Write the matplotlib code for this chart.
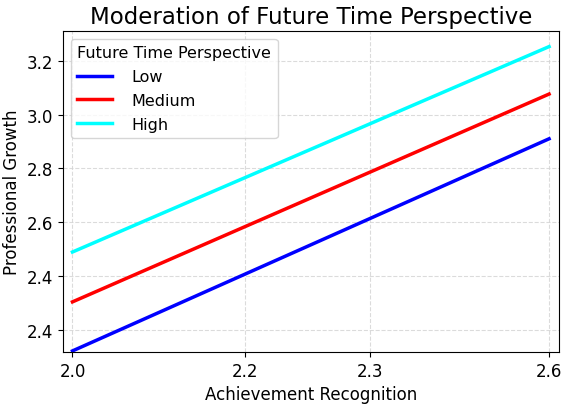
import numpy as np
import matplotlib.pyplot as plt
from matplotlib.ticker import FixedLocator, FixedFormatter

# achievement recognition range (x) and predicted professional growth (y)
x_vals = [2.0, 2.6]
low = [2.123, 2.910]
medium = [2.305, 3.076]
high = [2.490, 3.252]
groups = ['Low', 'Medium', 'High']
colors = ['blue', 'red', 'cyan']

x_ticks = [2.0, 2.217, 2.375, 2.6]
x_labels = ['2.0', '2.2', '2.3', '2.6']
y_ticks = [2.2, 2.4, 2.6, 2.8, 3.0, 3.2]
y_labels = ['2.4', '2.4', '2.6', '2.8', '3.0', '3.2']

fig = plt.figure(figsize=(5.67, 4.1), dpi=100)
ax = fig.add_axes([0.111, 0.139, 0.875, 0.783])

for name, ys, c in zip(groups, [low, medium, high], colors):
 ax.plot(x_vals, ys, color=c, linewidth=2.5, label=name)

ax.set_xlim(1.988, 2.6126)
ax.set_ylim(2.119, 3.31)
ax.xaxis.set_major_locator(FixedLocator(x_ticks))
ax.xaxis.set_major_formatter(FixedFormatter(x_labels))
ax.yaxis.set_major_locator(FixedLocator(y_ticks))
ax.yaxis.set_major_formatter(FixedFormatter(y_labels))
ax.tick_params(labelsize=12)
ax.grid(True, linestyle='--', color='lightgray', alpha=0.8)

ax.set_title('Moderation of Future Time Perspective', fontsize=16.5)
ax.set_xlabel('Achievement Recognition', fontsize=12)
ax.set_ylabel('Professional Growth', fontsize=12)
ax.legend(title='Future Time Perspective', fontsize=11.5, title_fontsize=11.5,
 loc='upper left', alignment='left', handlelength=2.2, labelspacing=0.55,
 handletextpad=1.2, borderpad=0.4)

fig.savefig('out.png', dpi=100)
